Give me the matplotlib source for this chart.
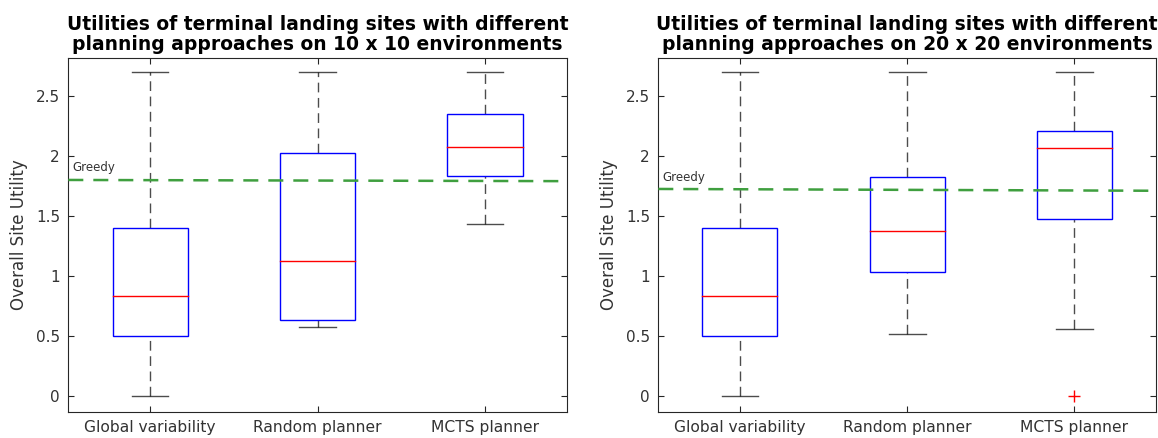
import matplotlib
matplotlib.use("Agg")
import matplotlib.pyplot as plt
from matplotlib.lines import Line2D
from matplotlib.patches import Rectangle

categories = ["Global variability", "Random planner", "MCTS planner"]
titles = ["Utilities of terminal landing sites with different\nplanning approaches on 10 x 10 environments",
          "Utilities of terminal landing sites with different\nplanning approaches on 20 x 20 environments"]

# box stats: lower whisker, q1, median, q3, upper whisker
left_stats = [
    [0.0, 0.50, 0.836, 1.396, 2.70],
    [0.575, 0.633, 1.122, 2.028, 2.70],
    [1.431, 1.831, 2.078, 2.347, 2.70],
]
right_stats = [
    [0.0, 0.50, 0.836, 1.396, 2.70],
    [0.517, 1.036, 1.372, 1.822, 2.70],
    [0.556, 1.475, 2.069, 2.208, 2.70],
]
left_outliers = [[], [], []]
right_outliers = [[], [], [0.0]]

greedy_left = (1.800, 1.790)
greedy_right = (1.725, 1.710)
greedy_label = "Greedy"
yticks = [0, 0.5, 1, 1.5, 2, 2.5]
ytick_labels = ["0", "0.5", "1", "1.5", "2", "2.5"]

plt.rcParams['font.family'] = ['DejaVu Sans']
fig = plt.figure(figsize=(11.58, 4.38), dpi=100)
axL = fig.add_axes([0.059, 0.060, 0.4304, 0.807])
axR = fig.add_axes([0.5685, 0.060, 0.4298, 0.807])

XLIM = (0.512, 3.488)
YLIM = (-0.131, 2.814)
BOXW = 0.448
CAPW = 0.22
edge = '#262626'
txt = '#333333'

def draw(ax, stats, outliers, greedy, title, label_y):
    for i, (lo, q1, med, q3, hi) in enumerate(stats):
        x = i + 1
        ax.add_line(Line2D([x, x], [q3, hi], color='black', lw=1.0, ls=(0, (7, 4)), alpha=0.7, zorder=2))
        ax.add_line(Line2D([x, x], [lo, q1], color='black', lw=1.0, ls=(0, (7, 4)), alpha=0.7, zorder=2))
        ax.add_line(Line2D([x - CAPW / 2, x + CAPW / 2], [hi, hi], color='black', lw=1.0, alpha=0.7, zorder=2))
        ax.add_line(Line2D([x - CAPW / 2, x + CAPW / 2], [lo, lo], color='black', lw=1.0, alpha=0.7, zorder=2))
        ax.add_patch(Rectangle((x - BOXW / 2, q1), BOXW, q3 - q1, fill=False, edgecolor='blue', lw=1.0, zorder=3))
        ax.add_line(Line2D([x - BOXW / 2, x + BOXW / 2], [med, med], color='red', lw=1.0, zorder=4))
        for o in outliers[i]:
            ax.plot([x], [o], marker='+', color='red', ms=8, mew=1.0, ls='none', zorder=4)
    ax.add_line(Line2D([XLIM[0], XLIM[1]], [greedy[0], greedy[1]], color='#3f9f3f', lw=1.8,
                       ls=(0, (6, 4)), zorder=5))
    ax.text(XLIM[0] + 0.027, label_y, greedy_label, fontsize=8.5, color=txt, va='center', ha='left')
    ax.set_xlim(*XLIM)
    ax.set_ylim(*YLIM)
    ax.set_xticks([1, 2, 3])
    ax.set_xticklabels(categories, fontsize=11.2, color=txt)
    ax.set_yticks(yticks)
    ax.set_yticklabels(ytick_labels, fontsize=11, color=txt)
    ax.tick_params(direction='in', top=True, right=True, length=4, color=edge, pad=6)
    for s in ax.spines.values():
        s.set_color(edge)
        s.set_linewidth(0.8)
    ax.set_ylabel("Overall Site Utility", fontsize=12, color=txt, labelpad=6)
    ax.set_title(title, fontsize=13.5, fontweight='bold', color='black', pad=6, linespacing=1.05)

draw(axL, left_stats, left_outliers, greedy_left, titles[0], 1.90)
draw(axR, right_stats, right_outliers, greedy_right, titles[1], 1.817)

fig.savefig("out.png", dpi=100)
